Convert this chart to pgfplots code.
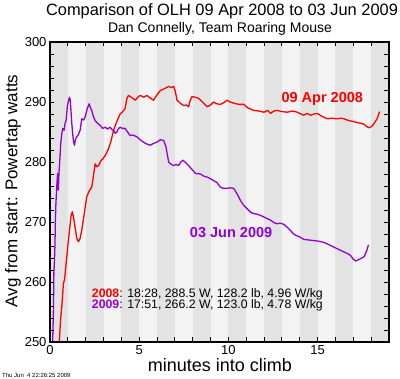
\documentclass[border=0pt]{standalone}
\usepackage{fontspec}
\setmainfont{Liberation Sans}
\usepackage{pgfplots}
\pgfplotsset{compat=1.18}
\definecolor{myred}{RGB}{255,0,0}
\definecolor{mypurple}{RGB}{148,0,211}
\definecolor{stripedark}{RGB}{227,227,227}
\definecolor{stripelight}{RGB}{243,243,243}
\begin{document}
\begin{tikzpicture}[x=1pt,y=1pt]
\path[use as bounding box] (0,0) rectangle (400,379);
\begin{axis}[at={(50pt,37pt)}, anchor=south west, scale only axis,
  width=339pt, height=300pt,
  xmin=0, xmax=19, ymin=250, ymax=300,
  xtick={0,5,10,15}, minor xtick={0,...,19},
  ytick={250,260,...,300}, minor ytick={250,252,...,300},
  tick align=inside, major tick length=4.5pt, minor tick length=4.5pt,
  tick style={black, line width=0.9pt},
  axis line style={line width=1.5pt},
  axis background/.style={fill=stripelight},
  axis on top,
  /pgf/number format/assume math mode=true,
  tick label style={font=\fontsize{13}{13}\selectfont},
]
\addplot[draw=none, fill=stripedark] coordinates {(0,250) (1,250) (1,300) (0,300)} -- cycle;
\addplot[draw=none, fill=stripedark] coordinates {(2,250) (3,250) (3,300) (2,300)} -- cycle;
\addplot[draw=none, fill=stripedark] coordinates {(4,250) (5,250) (5,300) (4,300)} -- cycle;
\addplot[draw=none, fill=stripedark] coordinates {(6,250) (7,250) (7,300) (6,300)} -- cycle;
\addplot[draw=none, fill=stripedark] coordinates {(8,250) (9,250) (9,300) (8,300)} -- cycle;
\addplot[draw=none, fill=stripedark] coordinates {(10,250) (11,250) (11,300) (10,300)} -- cycle;
\addplot[draw=none, fill=stripedark] coordinates {(12,250) (13,250) (13,300) (12,300)} -- cycle;
\addplot[draw=none, fill=stripedark] coordinates {(14,250) (15,250) (15,300) (14,300)} -- cycle;
\addplot[draw=none, fill=stripedark] coordinates {(16,250) (17,250) (17,300) (16,300)} -- cycle;
\addplot[draw=none, fill=stripedark] coordinates {(18,250) (19,250) (19,300) (18,300)} -- cycle;
% 2008
\addplot[myred, line width=1.3pt, line join=round] coordinates {
(0.50,248.5) (0.52,250) (0.60,254) (0.66,255.8) (0.75,259.7) (0.82,260.5) (0.90,263)
(1.00,266) (1.09,268.6) (1.18,271) (1.25,271.7) (1.32,270.8) (1.40,269.2) (1.50,267.3)
(1.59,266.7) (1.68,267.2) (1.78,268.6) (1.90,271) (2.06,274.2) (2.20,275.2) (2.34,275.8)
(2.45,278) (2.53,279.7) (2.62,279.2) (2.72,279.4) (2.85,280.2) (2.98,280.6) (3.12,281.2)
(3.28,282.2) (3.42,283.5) (3.56,285.3) (3.75,286.8) (3.93,288) (4.05,288.3) (4.21,288.9)
(4.30,290.5) (4.40,291.1) (4.55,290.8) (4.78,290.3) (4.95,290.9) (5.06,291.1) (5.25,290.8)
(5.43,291.1) (5.60,290.7) (5.80,290.3) (6.00,291.2) (6.18,291.9) (6.40,292.2) (6.65,292.6)
(6.80,292.4) (6.93,292.6) (7.02,291.8) (7.12,290.3) (7.30,289.8) (7.49,289.4) (7.65,289.5)
(7.77,289.2) (7.85,290.2) (7.96,290.9) (8.15,290.8) (8.33,290.6) (8.55,290) (8.80,289.2)
(9.00,289.5) (9.17,290) (9.35,289.7) (9.55,289.6) (9.75,289.9) (9.92,290.3) (10.10,290)
(10.30,289.8) (10.60,289.6) (10.86,289.6) (11.10,289) (11.42,288.6) (11.70,288.5)
(11.99,288.3) (12.20,288.6) (12.36,288.1) (12.55,288.5) (12.73,288.6) (13.00,288.4)
(13.30,288.3) (13.60,288.5) (13.86,288.3) (14.05,288) (14.23,287.8) (14.40,288.1)
(14.61,287.8) (14.80,288) (14.98,288.1) (15.25,287.6) (15.54,287.2) (15.80,287.3)
(16.10,287.2) (16.30,287.3) (16.48,287.2) (16.75,286.9) (17.05,286.7) (17.35,286.5)
(17.60,286.3) (17.75,285.9) (17.90,285.7) (18.05,286.0) (18.16,286.4) (18.35,287.3) (18.47,288.4)
};
% 2009
\addplot[mypurple, line width=1.3pt, line join=round] coordinates {
(0.14,248) (0.15,250) (0.19,255) (0.22,261.9) (0.25,263.5) (0.28,266.4) (0.30,270)
(0.33,273) (0.37,275.3) (0.40,277) (0.43,278.1) (0.47,275.3) (0.50,278) (0.56,280.8)
(0.60,283) (0.66,284.7) (0.72,285.6) (0.79,285.3) (0.85,286.5) (0.90,286.9) (0.97,289.2)
(1.02,290) (1.09,290.8) (1.13,290.4) (1.16,289.2) (1.22,286.5) (1.27,284.7) (1.32,283.4)
(1.37,282.8) (1.43,283.8) (1.50,284.2) (1.58,284.5) (1.69,285.3) (1.78,287.2) (1.88,287)
(1.97,287.5) (2.08,288.8) (2.19,289.7) (2.26,289.1) (2.34,288.6) (2.43,287.6) (2.53,286.9)
(2.65,286.5) (2.81,286.1) (2.95,285.6) (3.09,285.8) (3.22,285.5) (3.37,285.8) (3.47,285.4)
(3.56,285.3) (3.65,284.8) (3.75,285) (3.85,285.6) (3.93,285.8) (4.05,285.6) (4.21,285.6)
(4.35,285) (4.49,284.4) (4.65,284.5) (4.87,284.2) (5.05,283.7) (5.24,283.3) (5.42,283)
(5.62,282.8) (5.80,283.1) (5.99,283.3) (6.18,283.7) (6.37,283.6) (6.50,282.5) (6.65,280)
(6.80,279.6) (6.93,279.4) (7.08,279.6) (7.21,279.4) (7.33,280) (7.45,280.3) (7.60,279.9)
(7.77,279.4) (7.95,278.8) (8.15,278.1) (8.43,278) (8.65,277.6) (8.80,277.5) (9.00,277.2)
(9.17,276.9) (9.35,276.6) (9.55,275.8) (9.75,275.6) (9.92,275.6) (10.10,275.7) (10.30,275.6)
(10.50,274.6) (10.67,273.6) (10.85,272.8) (11.05,272.2) (11.25,271.6) (11.42,271.4)
(11.60,271.3) (11.80,271.1) (12.08,270.7) (12.36,270.3) (12.55,269.9) (12.73,269.7)
(12.90,269.8) (13.11,269.6) (13.30,269.1) (13.48,268.6) (13.62,268.1) (13.76,267.8)
(14.00,267.5) (14.23,267.1) (14.50,267) (14.79,266.9) (15.05,266.8) (15.35,266.6)
(15.65,266.2) (15.92,265.8) (16.20,265.4) (16.48,265) (16.70,264.7) (16.85,264.4)
(17.00,263.8) (17.13,263.5) (17.35,263.8) (17.60,264.2) (17.75,265.2) (17.85,266.2)
};
\node[myred, font=\fontsize{14.5}{14.5}\selectfont\bfseries] at (axis cs:15.26,290.57) {09 Apr 2008};
\node[mypurple, font=\fontsize{14.5}{14.5}\selectfont\bfseries] at (axis cs:10.15,268.3) {03 Jun 2009};
\node[anchor=west, inner sep=0pt, font=\fontsize{12.3}{12.3}\selectfont] at (axis cs:2.34,257.95) {\textcolor{myred}{\bfseries 2008}: 18:28, 288.5 W, 128.2 lb, 4.96 W/kg};
\node[anchor=west, inner sep=0pt, font=\fontsize{12.3}{12.3}\selectfont] at (axis cs:2.34,256.1) {\textcolor{mypurple}{\bfseries 2009}: 17:51, 266.2 W, 123.0 lb, 4.78 W/kg};
\end{axis}
\node[font=\fontsize{16.4}{16.4}\selectfont] at (222,368) {Comparison of OLH 09 Apr 2008 to 03 Jun 2009};
\node[font=\fontsize{14}{14}\selectfont] at (220,350) {Dan Connelly, Team Roaring Mouse};
\node[font=\fontsize{18}{18}\selectfont] at (220,14) {minutes into climb};
\node[font=\fontsize{17}{17}\selectfont, rotate=90] at (13,188) {Avg from start: Powertap watts};
\node[anchor=west, inner sep=0pt, font=\fontsize{6}{6}\selectfont] at (2,4) {Thu Jun\ \ 4 22:26:25 2009};
\end{tikzpicture}
\end{document}
